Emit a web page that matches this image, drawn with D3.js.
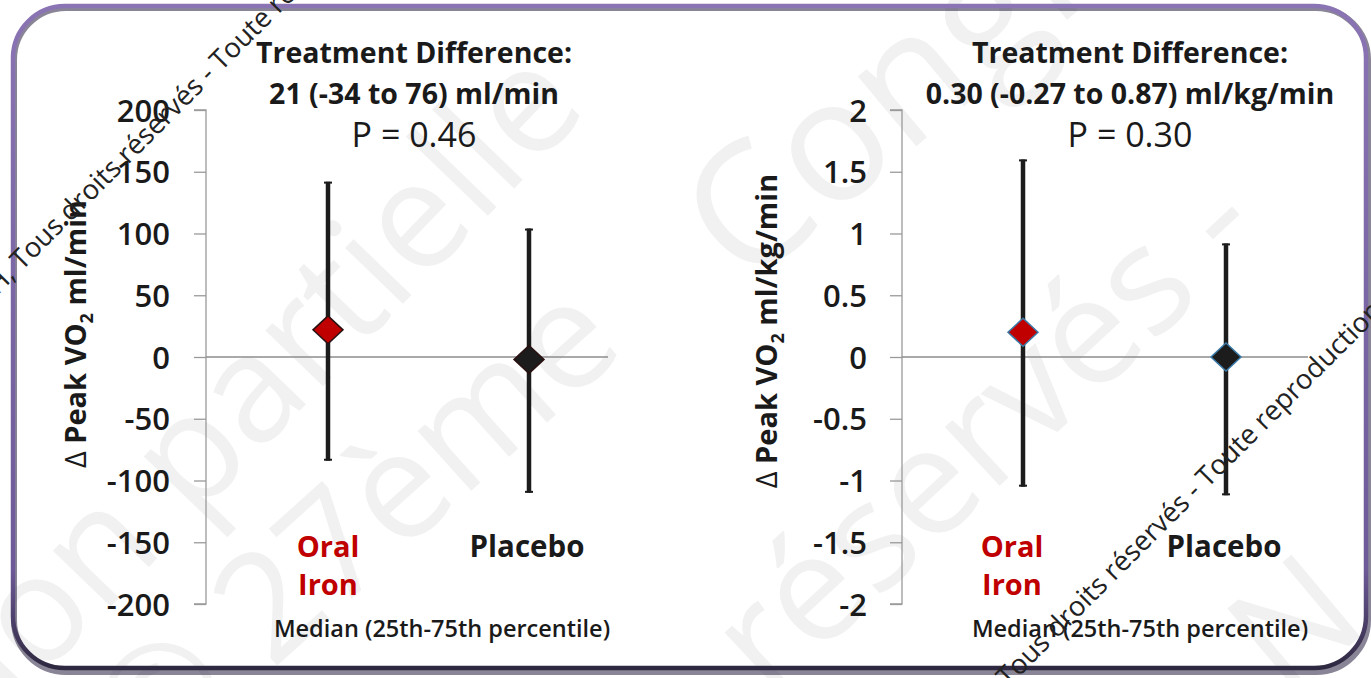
<!DOCTYPE html>
<html>
<head>
<meta charset="utf-8">
<script src="https://cdn.jsdelivr.net/npm/d3@7"></script>
<style>
  html, body { margin: 0; padding: 0; background: #fff; }
  svg { display: block; font-family: "Open Sans", Lato, sans-serif; }
</style>
</head>
<body>
<div id="chart"></div>
<script>
// 数据
const categories = ["Oral Iron", "Placebo"];
const absMedian = [22, -2];
const absLow = [-84, -110];
const absHigh = [142, 104];
const absTicks = [-200, -150, -100, -50, 0, 50, 100, 150, 200];

const wtMedian = [0.2, 0.0];
const wtLow = [-1.05, -1.12];
const wtHigh = [1.6, 0.92];
const wtTicks = [-2, -1.5, -1, -0.5, 0, 0.5, 1, 1.5, 2];

const titlesAbs = ["Treatment Difference:", "21 (-34 to 76) ml/min", "P = 0.46"];
const titlesWt = ["Treatment Difference:", "0.30 (-0.27 to 0.87) ml/kg/min", "P = 0.30"];
const yLabelAbs = "ml/min";
const yLabelWt = "ml/kg/min";
const footnote = "Median (25th-75th percentile)";

const width = 1371, height = 678;

const svg = d3.select("#chart").append("svg")
  .attr("width", width)
  .attr("height", height)
  .attr("viewBox", [0, 0, width, height]);

// 背景水印（浅灰大字）
const wmBig = svg.append("g")
  .attr("fill", "#f1f1f1");
[
  { t: "reproduction partielle", x: 590, y: 110, a: -46, anchor: "end", s: 150 },
  { t: "© 27ème", x: 150, y: 780, a: -42, anchor: "start", s: 150 },
  { t: "Congrès", x: 745, y: 290, a: -40, anchor: "start", s: 170 },
  { t: "réservés -", x: 770, y: 700, a: -43, anchor: "start", s: 150 },
  { t: "N", x: 1285, y: 700, a: -40, anchor: "start", s: 150 }
].forEach(d => {
  wmBig.append("text")
    .attr("text-anchor", d.anchor)
    .attr("font-size", d.s)
    .attr("transform", `translate(${d.x},${d.y}) rotate(${d.a})`)
    .text(d.t);
});

// 外框
const defs = svg.append("defs");
const grad = defs.append("linearGradient")
  .attr("id", "frameGrad").attr("x1", 0).attr("y1", 0).attr("x2", 0).attr("y2", 1);
grad.append("stop").attr("offset", "0%").attr("stop-color", "#8a74b4");
grad.append("stop").attr("offset", "85%").attr("stop-color", "#6e5a98");
grad.append("stop").attr("offset", "100%").attr("stop-color", "#2e2840");

svg.append("rect")
  .attr("x", 14).attr("y", 8)
  .attr("width", 1354).attr("height", 664)
  .attr("rx", 52).attr("ry", 52)
  .attr("fill", "none")
  .attr("stroke", "#3a3450")
  .attr("stroke-width", 6)
  .attr("opacity", 0.6);
svg.append("rect")
  .attr("x", 13).attr("y", 6)
  .attr("width", 1353).attr("height", 662)
  .attr("rx", 52).attr("ry", 52)
  .attr("fill", "none")
  .attr("stroke", "url(#frameGrad)")
  .attr("stroke-width", 4.5);

const fmt = d => d3.format("~g")(d).replace("\u2212", "-");

function drawPanel(cfg) {
  const g = svg.append("g");
  const y = d3.scaleLinear().domain([cfg.ticks[0], cfg.ticks[cfg.ticks.length - 1]])
    .range([604, 110]);
  const x = d3.scalePoint().domain(categories)
    .range([cfg.axisX + cfg.firstOff, cfg.axisX + cfg.firstOff + cfg.step]);

  // y 轴
  const axis = d3.axisLeft(y)
    .tickValues(cfg.ticks)
    .tickSize(12)
    .tickPadding(cfg.pad)
    .tickFormat(fmt);
  const ag = g.append("g")
    .attr("transform", `translate(${cfg.axisX},0)`)
    .call(axis)
    .attr("font-family", null)
    .attr("font-size", null);
  ag.select(".domain").attr("stroke", "#9a9a9a").attr("stroke-width", 1.3)
    .attr("d", `M-12,${y.range()[1]}H0V${y.range()[0]}H-12`);
  ag.selectAll(".tick line").attr("stroke", "#9a9a9a").attr("stroke-width", 1.3);
  ag.selectAll(".tick text")
    .attr("fill", "#1a1a1a")
    .attr("font-size", 31)
    .attr("font-weight", 600)
    .attr("dy", "0.36em");

  // 零线
  g.append("line")
    .attr("x1", cfg.axisX).attr("x2", cfg.zeroEnd)
    .attr("y1", y(0)).attr("y2", y(0))
    .attr("stroke", "#8c8c8c").attr("stroke-width", 1.3);

  // y 轴标题
  const yl = g.append("text")
    .attr("transform", `translate(${cfg.labelX},${cfg.labelY}) rotate(-90)`)
    .attr("text-anchor", "middle")
    .attr("fill", "#1a1a1a")
    .attr("font-size", 29)
    .attr("font-weight", 700);
  yl.append("tspan").attr("font-weight", 400).text("Δ ");
  yl.append("tspan").text("Peak VO");
  yl.append("tspan").attr("font-size", 18).attr("dy", 7).text("2");
  yl.append("tspan").attr("dy", -7).text(" " + cfg.yLabel);

  // 误差线
  const bars = g.selectAll(".bar").data(categories).join("g").attr("class", "bar");
  bars.append("line")
    .attr("x1", d => x(d)).attr("x2", d => x(d))
    .attr("y1", (d, i) => y(cfg.high[i])).attr("y2", (d, i) => y(cfg.low[i]))
    .attr("stroke", "#1c1c1c").attr("stroke-width", 4.5);
  bars.append("line")
    .attr("x1", d => x(d) - 4).attr("x2", d => x(d) + 4)
    .attr("y1", (d, i) => y(cfg.high[i]) + 1).attr("y2", (d, i) => y(cfg.high[i]) + 1)
    .attr("stroke", "#1c1c1c").attr("stroke-width", 2);
  bars.append("line")
    .attr("x1", d => x(d) - 4).attr("x2", d => x(d) + 4)
    .attr("y1", (d, i) => y(cfg.low[i]) - 1).attr("y2", (d, i) => y(cfg.low[i]) - 1)
    .attr("stroke", "#1c1c1c").attr("stroke-width", 2);

  // 菱形标记
  const diamond = "M0,-14L15,0L0,14L-15,0Z";
  bars.append("path")
    .attr("d", diamond)
    .attr("transform", (d, i) => `translate(${x(d)},${y(cfg.median[i])})`)
    .attr("fill", (d, i) => i === 0 ? "#c00000" : "#1c1c1c")
    .attr("stroke", cfg.markerStroke)
    .attr("stroke-width", 1.5);

  // 类别标签
  g.append("text")
    .attr("x", x(categories[0]) + cfg.oralOff).attr("y", 557)
    .attr("text-anchor", "middle").attr("fill", "#c00000")
    .attr("font-size", 29).attr("font-weight", 700)
    .selectAll("tspan").data(categories[0].split(" ")).join("tspan")
    .attr("x", x(categories[0]) + cfg.oralOff)
    .attr("dy", (d, i) => i ? 38 : 0)
    .text(d => d);
  g.append("text")
    .attr("x", x(categories[1]) - 2).attr("y", 557)
    .attr("text-anchor", "middle").attr("fill", "#1a1a1a")
    .attr("font-size", 29.5).attr("font-weight", 700)
    .text(categories[1]);

  // 标题
  const tt = g.append("g").attr("text-anchor", "middle").attr("fill", "#1a1a1a");
  tt.append("text").attr("x", cfg.titleX).attr("y", 63)
    .attr("font-size", 28.5).attr("font-weight", 700).text(cfg.titles[0]);
  tt.append("text").attr("x", cfg.titleX).attr("y", 104)
    .attr("font-size", 28.5).attr("font-weight", 700).text(cfg.titles[1]);
  tt.append("text").attr("x", cfg.titleX).attr("y", 147)
    .attr("font-size", 34).attr("font-weight", 400).text(cfg.titles[2]);

  // 脚注
  g.append("text").attr("x", cfg.footX).attr("y", 637)
    .attr("text-anchor", "middle").attr("fill", "#1a1a1a")
    .attr("font-size", 23.5).attr("font-weight", 600)
    .text(footnote);
}

drawPanel({
  axisX: 206, firstOff: 122, step: 201, zeroEnd: 608, pad: 24,
  ticks: absTicks, median: absMedian, low: absLow, high: absHigh,
  titles: titlesAbs, titleX: 414, yLabel: yLabelAbs, labelX: 86, labelY: 334,
  footX: 442, oralOff: 0, markerStroke: "#2a1010"
});
drawPanel({
  axisX: 902, firstOff: 121, step: 203, zeroEnd: 1308, pad: 23,
  ticks: wtTicks, median: wtMedian, low: wtLow, high: wtHigh,
  titles: titlesWt, titleX: 1130, yLabel: yLabelWt, labelX: 777, labelY: 331,
  footX: 1140, oralOff: -11, markerStroke: "#3a7aa8"
});

// 前景水印（深色小字）
const wmSmall = svg.append("g")
  .attr("fill", "#222")
  .attr("font-size", 27.5);
[
  { t: "CH, Tous droits réservés - Toute reproduction", x: -15, y: 308, a: -45 },
  { t: "Tous droits réservés - Toute reproduction", x: 1008, y: 688, a: -45 }
].forEach(d => {
  wmSmall.append("text")
    .attr("transform", `translate(${d.x},${d.y}) rotate(${d.a})`)
    .text(d.t);
});
</script>
</body>
</html>
